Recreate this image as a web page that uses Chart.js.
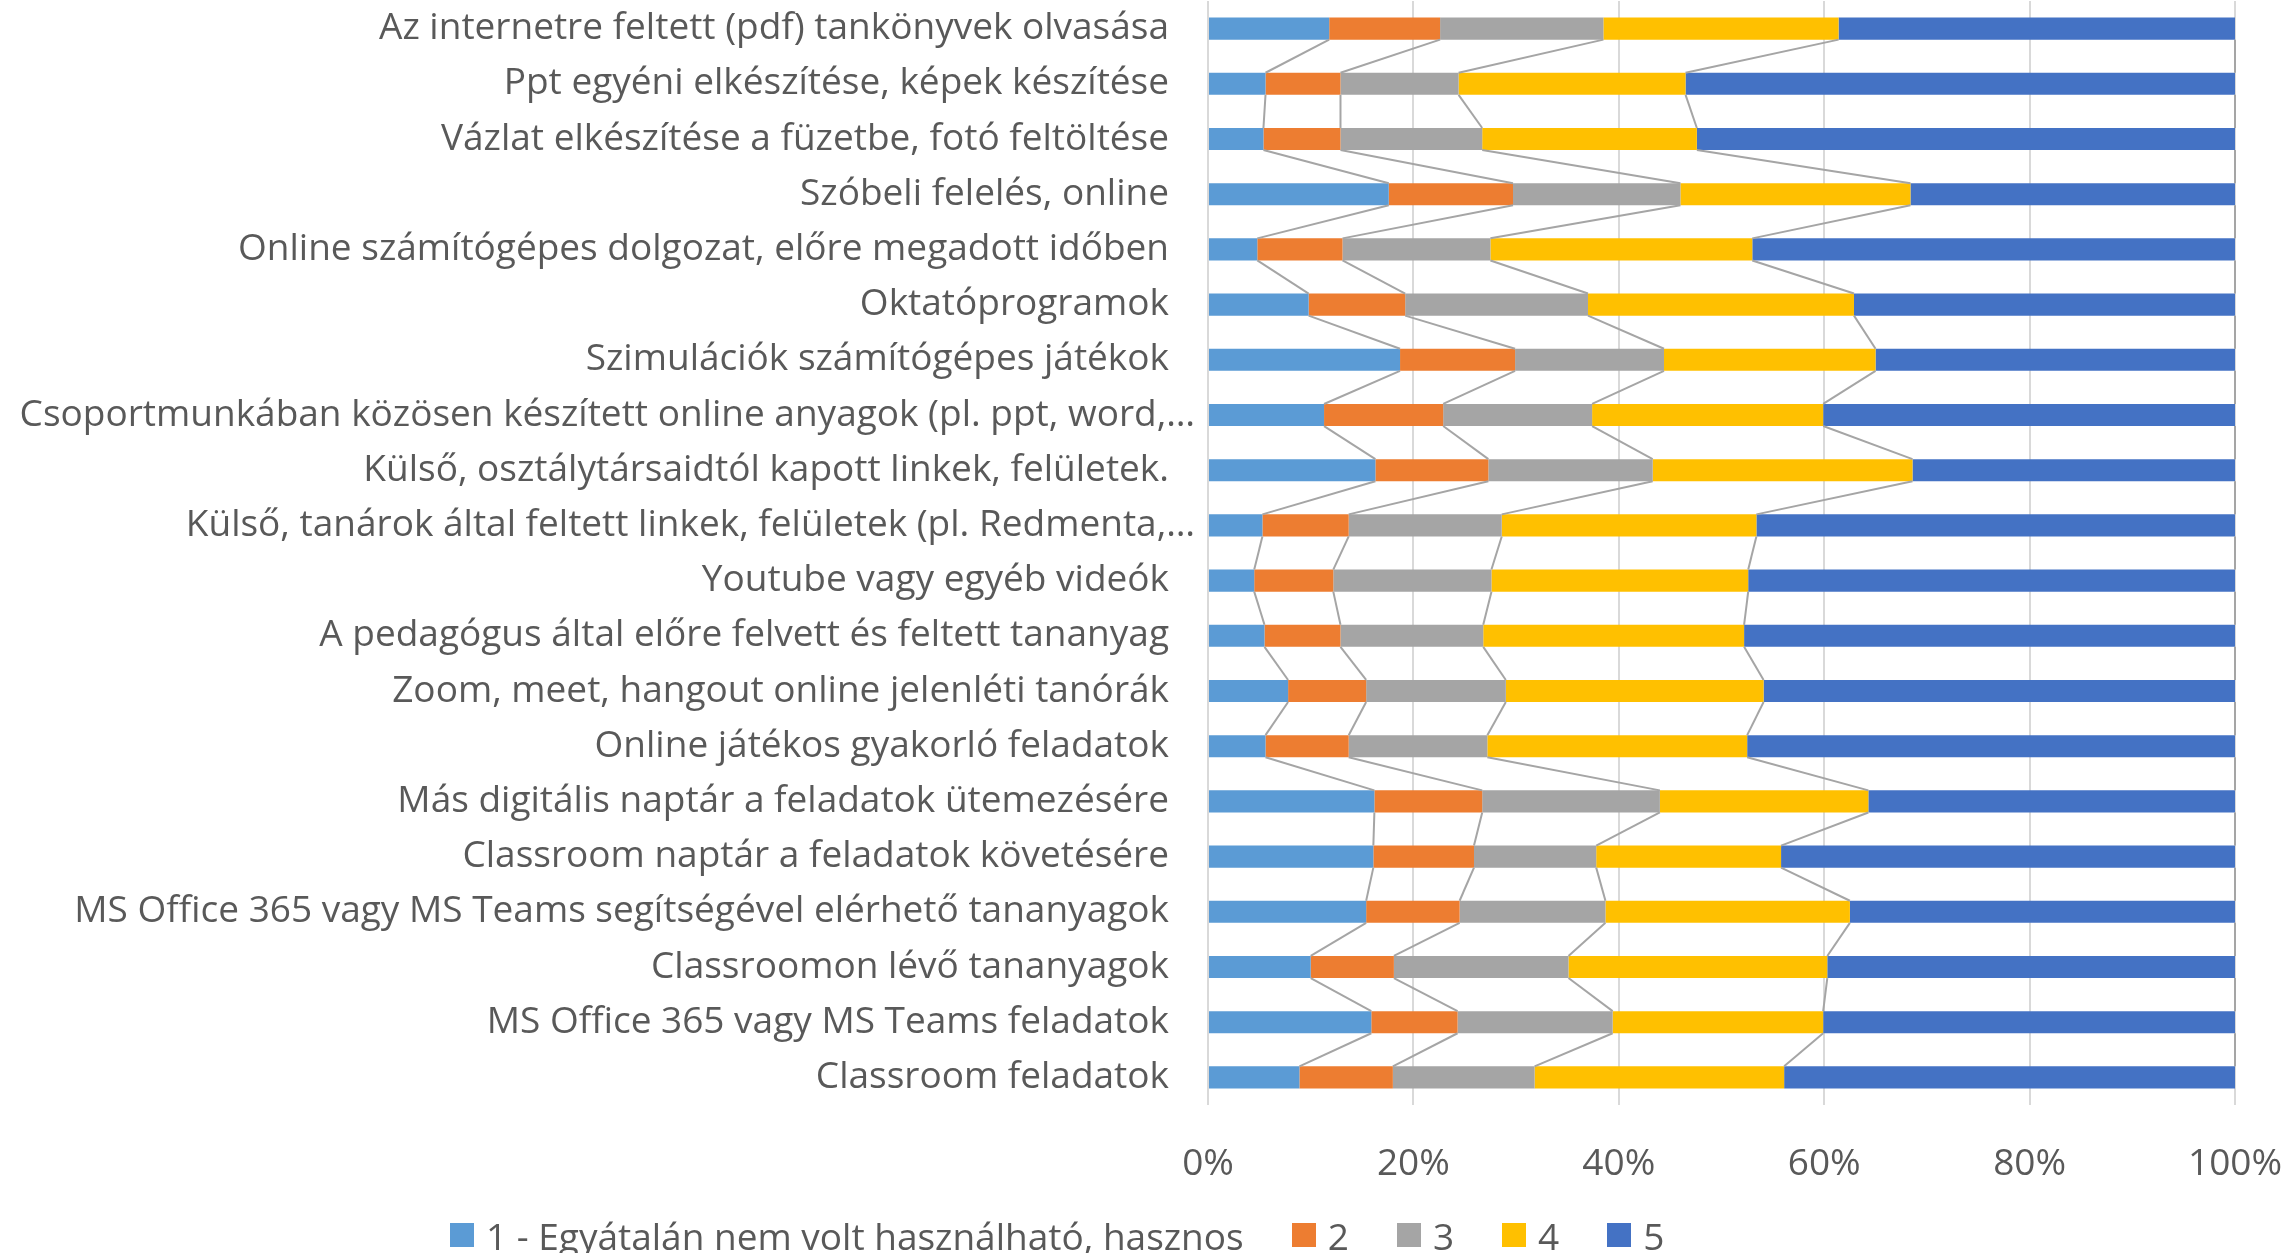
<!DOCTYPE html>
<html>
<head>
<meta charset="utf-8">
<title>Digitális eszközök értékelése</title>
<script src="https://cdn.jsdelivr.net/npm/chart.js@4.4.1/dist/chart.umd.min.js"></script>
<style>
    html, body { margin: 0; padding: 0; background: #fff; }
    #wrap { position: relative; width: 2291px; height: 1253px; }
    #legend {
        position: absolute; left: 450px; top: 1213px; height: 44px;
        display: flex; align-items: center;
        font-family: 'Open Sans', sans-serif; font-size: 37px; color: #595959;
        white-space: nowrap;
    }
    #legend .item { display: flex; align-items: center; margin-right: 48px; }
    #legend .box { width: 24px; height: 24px; margin-right: 12px; }
</style>
</head>
<body>
<div id="wrap">
    <canvas id="chart" width="2291" height="1253"></canvas>
    <div id="legend"></div>
</div>
<script>
const categories = [
    'Az internetre feltett (pdf) tankönyvek olvasása',
    'Ppt egyéni elkészítése, képek készítése',
    'Vázlat elkészítése a füzetbe, fotó feltöltése',
    'Szóbeli felelés, online',
    'Online számítógépes dolgozat, előre megadott időben',
    'Oktatóprogramok',
    'Szimulációk számítógépes játékok',
    'Csoportmunkában közösen készített online anyagok (pl. ppt, word,…',
    'Külső, osztálytársaidtól kapott linkek, felületek.',
    'Külső, tanárok által feltett linkek, felületek (pl. Redmenta,…',
    'Youtube vagy egyéb videók',
    'A pedagógus által előre felvett és feltett tananyag',
    'Zoom, meet, hangout online jelenléti tanórák',
    'Online játékos gyakorló feladatok',
    'Más digitális naptár a feladatok ütemezésére',
    'Classroom naptár a feladatok követésére',
    'MS Office 365 vagy MS Teams segítségével elérhető tananyagok',
    'Classroomon lévő tananyagok',
    'MS Office 365 vagy MS Teams feladatok',
    'Classroom feladatok'
];

const seriesNames = ['1 - Egyátalán nem volt használható, hasznos', '2', '3', '4', '5'];
const seriesColors = ['#5B9BD5', '#ED7D31', '#A5A5A5', '#FFC000', '#4472C4'];

// share of answers in percent, rows in the same order as categories
const rating1 = [11.8, 5.6, 5.4, 17.6, 4.8, 9.8, 18.7, 11.3, 16.3, 5.3, 4.5, 5.5, 7.8, 5.6, 16.2, 16.1, 15.4, 10.0, 15.9, 8.9];
const rating2 = [10.8, 7.3, 7.5, 12.1, 8.3, 9.4, 11.2, 11.6, 11.0, 8.4, 7.7, 7.4, 7.6, 8.1, 10.5, 9.8, 9.1, 8.1, 8.4, 9.1];
const rating3 = [15.9, 11.5, 13.8, 16.3, 14.4, 17.8, 14.5, 14.5, 16.0, 14.9, 15.4, 13.9, 13.6, 13.5, 17.3, 11.9, 14.2, 17.0, 15.1, 13.8];
const rating4 = [22.9, 22.1, 20.9, 22.4, 25.5, 25.9, 20.6, 22.5, 25.3, 24.8, 25.0, 25.4, 25.1, 25.3, 20.3, 18.0, 23.8, 25.2, 20.5, 24.3];
const rating5 = [38.6, 53.5, 52.4, 31.6, 47.0, 37.1, 35.0, 40.1, 31.4, 46.6, 47.4, 47.8, 45.9, 47.5, 35.7, 44.2, 37.5, 39.7, 40.1, 43.9];

const xTicks = [0, 20, 40, 60, 80, 100];

const allSeries = [rating1, rating2, rating3, rating4, rating5];
const textColor = '#595959';
const fontFamily = "'Open Sans', sans-serif";
const fontSize = 37;

// Excel style series lines between the stacked bars
const seriesLines = {
    id: 'seriesLines',
    afterDatasetsDraw(chart) {
        const ctx = chart.ctx;
        ctx.save();
        ctx.strokeStyle = '#A5A5A5';
        ctx.lineWidth = 2;
        chart.data.datasets.forEach((ds, i) => {
            const bars = chart.getDatasetMeta(i).data;
            for (let k = 0; k < bars.length - 1; k++) {
                const a = bars[k];
                const b = bars[k + 1];
                ctx.beginPath();
                ctx.moveTo(a.x, a.y + a.height / 2);
                ctx.lineTo(b.x, b.y - b.height / 2);
                ctx.stroke();
            }
        });
        ctx.restore();
    }
};

// category labels drawn by hand: Excel puts the cut-off ("…") labels closer to the axis
const categoryLabels = {
    id: 'categoryLabels',
    afterDraw(chart) {
        const ctx = chart.ctx;
        const yScale = chart.scales.y;
        const left = chart.chartArea.left;
        ctx.save();
        ctx.font = fontSize + 'px ' + fontFamily;
        ctx.fillStyle = textColor;
        ctx.textAlign = 'right';
        ctx.textBaseline = 'middle';
        categories.forEach((label, i) => {
            const x = label.endsWith('…') ? left - 13 : left - 39;
            ctx.fillText(label, x, yScale.getPixelForValue(i));
        });
        ctx.restore();
    }
};

const ctx = document.getElementById('chart').getContext('2d');
const chart = new Chart(ctx, {
    type: 'bar',
    data: {
        labels: categories,
        datasets: allSeries.map((values, i) => ({
            label: seriesNames[i],
            data: values,
            backgroundColor: seriesColors[i],
            borderWidth: 0,
            barPercentage: 0.4,
            categoryPercentage: 1
        }))
    },
    options: {
        indexAxis: 'y',
        responsive: false,
        devicePixelRatio: 1,
        animation: false,
        layout: { padding: { left: 0, right: 56, top: 1, bottom: 0 } },
        plugins: {
            legend: { display: false },
            tooltip: { enabled: false }
        },
        scales: {
            x: {
                stacked: true,
                min: 0,
                max: 100,
                afterBuildTicks: scale => { scale.ticks = xTicks.map(v => ({ value: v })); },
                afterFit: scale => {
                    scale.height = 148;
                    scale.paddingLeft = 0;
                    scale.paddingRight = 0;
                },
                grid: { color: '#D9D9D9', lineWidth: 2, drawTicks: false },
                border: { display: false },
                ticks: {
                    padding: 37,
                    color: textColor,
                    font: { family: fontFamily, size: fontSize },
                    callback: v => v + '%'
                }
            },
            y: {
                stacked: true,
                afterFit: scale => {
                    scale.width = 1208;
                    scale.paddingTop = 0;
                    scale.paddingBottom = 0;
                },
                grid: { display: false, drawTicks: false },
                border: { display: false },
                ticks: { display: false, autoSkip: false }
            }
        }
    },
    plugins: [seriesLines, categoryLabels]
});

// HTML legend built from the datasets
const legendEl = document.getElementById('legend');
chart.data.datasets.forEach(ds => {
    const item = document.createElement('div');
    item.className = 'item';
    const box = document.createElement('span');
    box.className = 'box';
    box.style.background = ds.backgroundColor;
    const text = document.createElement('span');
    text.textContent = ds.label;
    item.appendChild(box);
    item.appendChild(text);
    legendEl.appendChild(item);
});
</script>
</body>
</html>
